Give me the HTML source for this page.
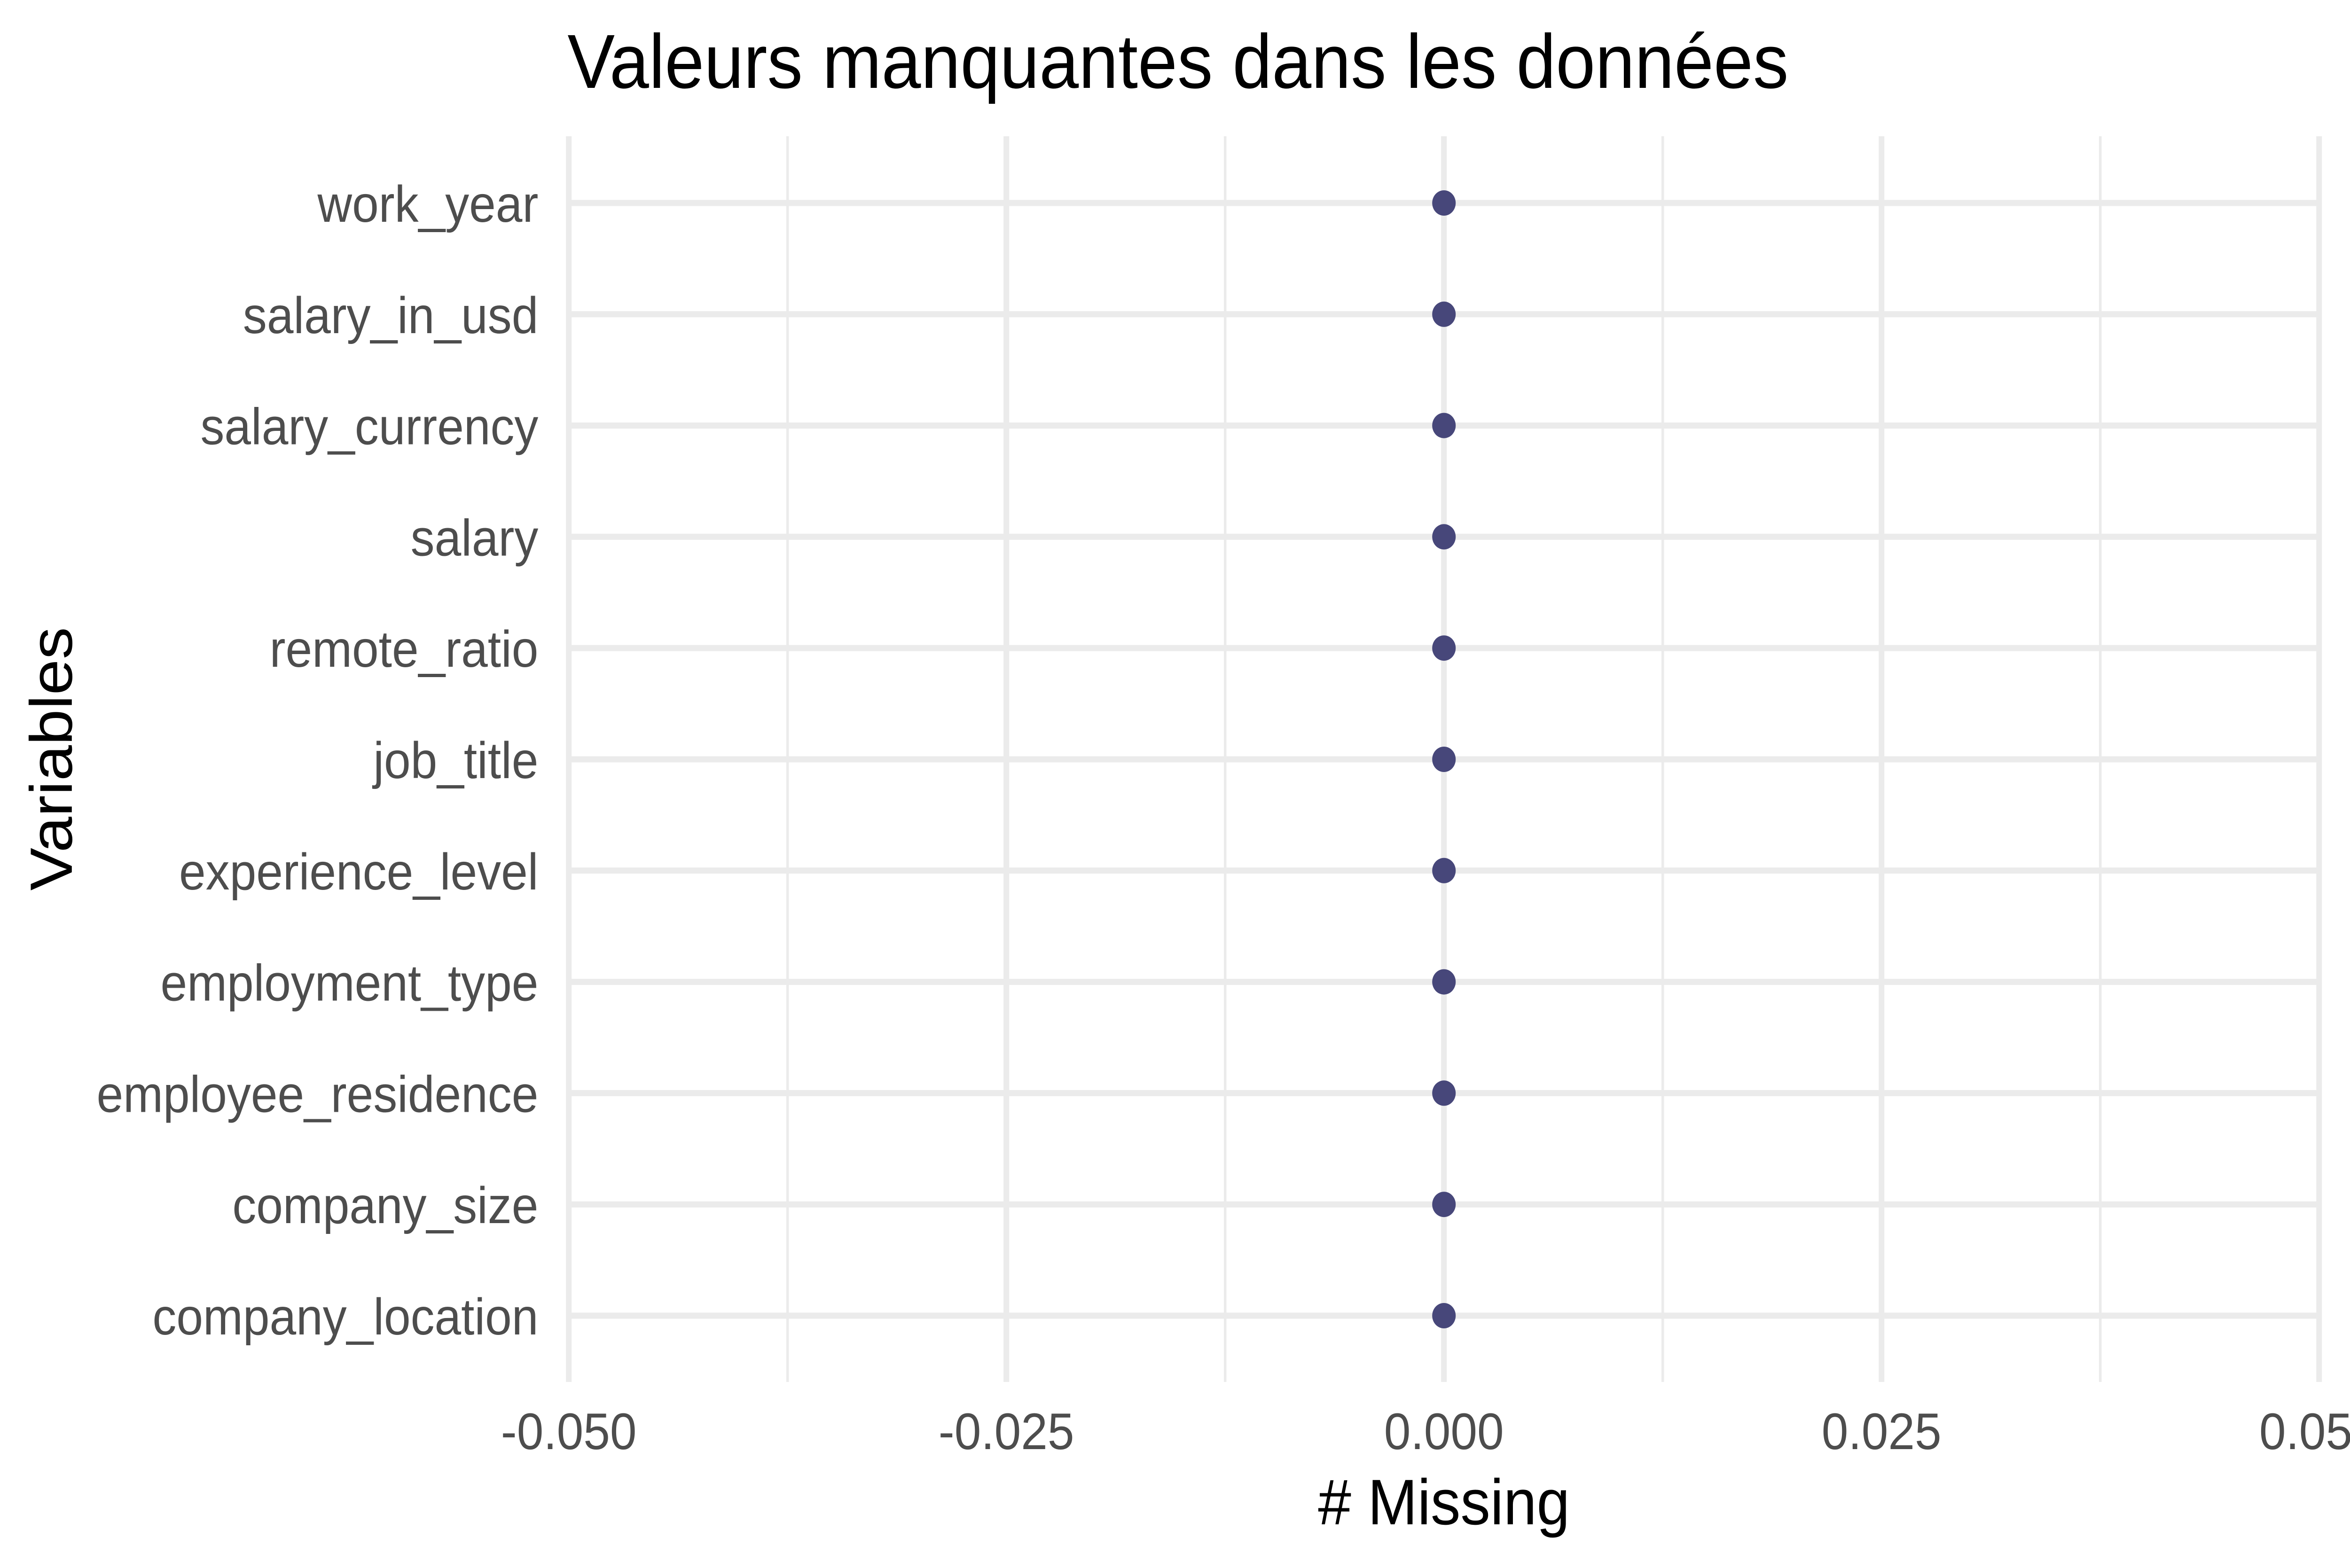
<!DOCTYPE html>
<html><head><meta charset="utf-8"><style>
html,body{margin:0;padding:0;background:#fff;overflow:hidden;width:100%;height:100%;}
svg{display:block;font-family:"Liberation Sans",Arial,sans-serif;width:100vw;height:100vh;}
</style></head><body>
<svg id="chart" viewBox="0 0 5400 3337" preserveAspectRatio="none">
<text x="1304" y="187" font-size="163" fill="#000">Valeurs manquantes dans les données</text>
<g id="grid"></g>
<g id="points"></g>
<g id="ylabels"></g>
<g id="xlabels"></g>
<text x="3318" y="3244" font-size="137" text-anchor="middle" fill="#000"># Missing</text>
<text x="0" y="0" font-size="137" text-anchor="middle" fill="#000" transform="translate(165,1615) rotate(-90)">Variables</text>
</svg>
<script>
const variables = ["work_year","salary_in_usd","salary_currency","salary","remote_ratio","job_title","experience_level","employment_type","employee_residence","company_size","company_location"];
const missing = [0,0,0,0,0,0,0,0,0,0,0];
const xTicks = [-0.05,-0.025,0,0.025,0.05];
const xTickLabels = ["-0.050","-0.025","0.000","0.025","0.050"];

const NS = "http://www.w3.org/2000/svg";
const L = 1307, R = 5329, T = 290, B = 2941;
const row0 = 432, rowN = 2800;
function xScale(v){ return L + (v + 0.05) / 0.1 * (R - L); }
function yScale(i){ return row0 + i * (rowN - row0) / (variables.length - 1); }
function mk(tag, attrs, parent){ const e=document.createElementNS(NS,tag); for(const k in attrs) e.setAttribute(k,attrs[k]); parent.appendChild(e); return e; }

const grid = document.getElementById('grid');
for (let i = 0; i < xTicks.length - 1; i++) {
  const m = (xTicks[i] + xTicks[i+1]) / 2;
  const ln = mk('line',{x1:xScale(m),x2:xScale(m),y1:T,y2:B,stroke:'#ebebeb','stroke-width':6},grid);
  
  
}
xTicks.forEach(t => {
  const ln = mk('line',{x1:xScale(t),x2:xScale(t),y1:T,y2:B,stroke:'#ebebeb','stroke-width':13},grid);
  
  
});
variables.forEach((v,i) => {
  const ln = mk('line',{x1:L,x2:R,y1:yScale(i),y2:yScale(i),stroke:'#ebebeb','stroke-width':13},grid);
  
  
});

const pts = document.getElementById('points');
variables.forEach((v,i) => {
  const c = mk('circle',{cx:xScale(missing[i]),cy:yScale(i),r:27,fill:'#47477a'},pts);
  
  
});

const yl = document.getElementById('ylabels');
variables.forEach((v,i) => {
  const t = mk('text',{x:1237,y:yScale(i)+40,'font-size':110,'text-anchor':'end',fill:'#4d4d4d'},yl);
  t.textContent = v;
  
  
});

const xl = document.getElementById('xlabels');
xTicks.forEach((tk,i) => {
  const t = mk('text',{x:xScale(tk),y:3084,'font-size':110,'text-anchor':'middle',fill:'#4d4d4d'},xl);
  t.textContent = xTickLabels[i];
  
  
});
</script>
</body></html>
